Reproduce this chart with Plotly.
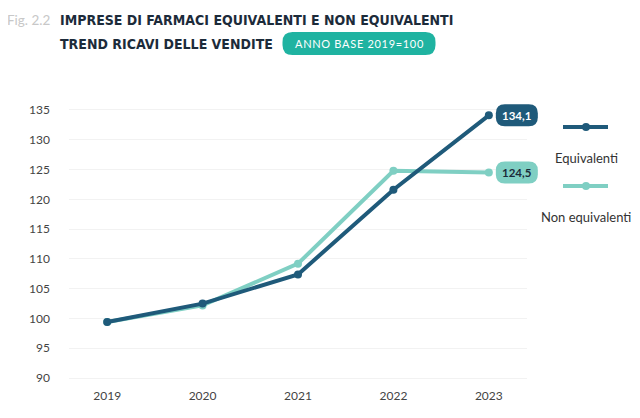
import plotly.graph_objects as go

years = [2019, 2020, 2021, 2022, 2023]
equivalenti = [99.4, 102.5, 107.4, 121.6, 134.1]
non_equivalenti = [99.4, 102.2, 109.2, 124.8, 124.5]
y_ticks = [90, 95, 100, 105, 110, 115, 120, 125, 130, 135]
series_names = ["Equivalenti", "Non equivalenti"]
end_labels = ["134,1", "124,5"]

DARK = "#1f5a7a"
LIGHT = "#7fcfc3"
FONT = "Lato"
TITLE_FONT = "DejaVu Sans Condensed, Lato"

OFF = 8  # page body margin
W, H = 640 - OFF, 418 - OFF
L, R, T, B = 69 - OFF, 527 - OFF, 104 - OFF, 387 - OFF
XR = [2018.6, 2023.4]
YR = [88.5, 136]


def px(x):
    return (x - OFF - L) / (R - L)


def py(y):
    return (B - (y - OFF)) / (B - T)


def dx(v):
    return (v - XR[0]) / (XR[1] - XR[0])


def dy(v):
    return (v - YR[0]) / (YR[1] - YR[0])


def pill(w, h, r):
    x0, x1, y0, y1 = -w / 2, w / 2, -h / 2, h / 2
    return (f"M{x0 + r},{y0} L{x1 - r},{y0} Q{x1},{y0} {x1},{y0 + r} "
            f"L{x1},{y1 - r} Q{x1},{y1} {x1 - r},{y1} L{x0 + r},{y1} "
            f"Q{x0},{y1} {x0},{y1 - r} L{x0},{y0 + r} Q{x0},{y0} {x0 + r},{y0} Z")


fig = go.Figure()
for name, vals, col in [(series_names[1], non_equivalenti, LIGHT),
                        (series_names[0], equivalenti, DARK)]:
    fig.add_trace(go.Scatter(x=years, y=vals, name=name, mode="lines+markers",
                             line=dict(color=col, width=4),
                             marker=dict(color=col, size=8),
                             showlegend=False))

shapes = []
annotations = []

# end value labels
for vals, lab, bg, fg in [(equivalenti, end_labels[0], DARK, "white"),
                          (non_equivalenti, end_labels[1], LIGHT, "#1a2a3a")]:
    xa = dx(years[-1]) + 28 / (R - L)
    shapes.append(dict(type="path", xref="paper", yref="paper", xsizemode="pixel", ysizemode="pixel",
                       xanchor=xa, yanchor=dy(vals[-1]), path=pill(42, 22, 9),
                       fillcolor=bg, line=dict(width=0), layer="above"))
    annotations.append(dict(x=xa, y=dy(vals[-1]), xref="paper", yref="paper", text="<b>" + lab + "</b>",
                            xanchor="center", yanchor="middle",
                            showarrow=False, font=dict(family=FONT, size=11.5, color=fg)))

# legend
for yy, ty, col, name in [(127, 158, DARK, series_names[0]), (186, 217, LIGHT, series_names[1])]:
    shapes.append(dict(type="line", xref="paper", yref="paper", x0=px(563), x1=px(608),
                       y0=py(yy), y1=py(yy), line=dict(color=col, width=4)))
    shapes.append(dict(type="circle", xref="paper", yref="paper", xsizemode="pixel", ysizemode="pixel",
                       xanchor=px(586), yanchor=py(yy), x0=-4, x1=4, y0=-4, y1=4,
                       fillcolor=col, line=dict(width=0)))
    annotations.append(dict(x=px(586), y=py(ty), xref="paper", yref="paper", text=name,
                            xanchor="center", yanchor="middle",
                            showarrow=False, font=dict(family=FONT, size=13, color="#333333")))

# title
annotations.append(dict(x=px(5), y=py(20), xref="paper", yref="paper", xanchor="left", yanchor="middle",
                        text="Fig. 2.2", showarrow=False,
                        font=dict(family=FONT, size=13.5, color="#c8c8c8")))
annotations.append(dict(x=px(58), y=py(20), xref="paper", yref="paper", xanchor="left", yanchor="middle",
                        text="<b>IMPRESE DI FARMACI EQUIVALENTI E NON EQUIVALENTI</b>", showarrow=False,
                        font=dict(family=TITLE_FONT, size=14, color="#1c2b3a")))
annotations.append(dict(x=px(58), y=py(44), xref="paper", yref="paper", xanchor="left", yanchor="middle",
                        text="<b>TREND RICAVI DELLE VENDITE</b>", showarrow=False,
                        font=dict(family=TITLE_FONT, size=14, color="#1c2b3a")))
shapes.append(dict(type="path", xref="paper", yref="paper", xsizemode="pixel", ysizemode="pixel",
                   xanchor=px(359), yanchor=py(43.5), path=pill(153, 23, 10),
                   fillcolor="#1fb3a1", line=dict(width=0)))
badge = "\u200a".join("ANNO BASE 2019=100")
annotations.append(dict(x=px(359), y=py(43.5), xref="paper", yref="paper",
                        xanchor="center", yanchor="middle", text=badge,
                        showarrow=False, font=dict(family=FONT, size=11, color="white")))

fig.update_layout(
    width=W, height=H,
    margin=dict(l=L, r=W - R, t=T, b=H - B),
    paper_bgcolor="white", plot_bgcolor="white",
    shapes=shapes, annotations=annotations,
    xaxis=dict(range=XR, tickvals=years, ticktext=[str(y) for y in years],
               showgrid=False, zeroline=False, showline=False, ticks="",
               tickfont=dict(family=FONT, size=12, color="#444444")),
    yaxis=dict(range=YR, tickvals=y_ticks, showgrid=True, gridcolor="#f2f2f2",
               gridwidth=1, zeroline=False, showline=False, ticks="", ticklabelstandoff=18,
               tickfont=dict(family=FONT, size=12, color="#444444")),
)

fig.write_html("out.html")
